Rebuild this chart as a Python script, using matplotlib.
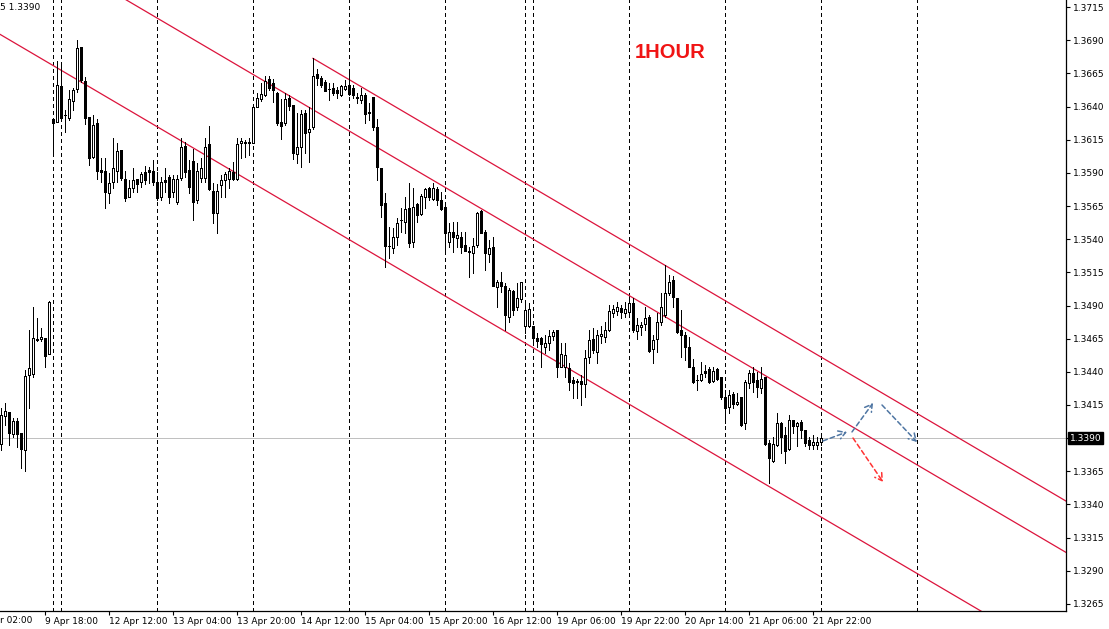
import numpy as np
import matplotlib
matplotlib.use('Agg')
import matplotlib.pyplot as plt
from matplotlib.transforms import blended_transform_factory

# hourly bars, first visible bar is index -11 (index 0 = 9 Apr 18:00)
first_bar = -11

opens = [1.33854, 1.34068, 1.34095, 1.33929, 1.34030, 1.33937, 1.33812, 1.34377, 1.34382, 1.34648, 1.34646,
         1.34653, 1.34532, 1.36306, 1.36286, 1.36555, 1.36339, 1.36316, 1.36442, 1.36530, 1.36846,
         1.36592, 1.36324, 1.36022, 1.36273, 1.35922, 1.35914, 1.35751, 1.35829, 1.35917, 1.36072,
         1.35854, 1.35721, 1.35788, 1.35851, 1.35829, 1.35909, 1.35919, 1.35914, 1.35834, 1.35721,
         1.35846, 1.35866, 1.35753, 1.35683, 1.35858, 1.36102, 1.35921, 1.35992, 1.35695, 1.35858,
         1.35858, 1.36117, 1.35763, 1.35595, 1.35808, 1.35846, 1.35851, 1.35909, 1.35851, 1.36122,
         1.36135, 1.36135, 1.36122, 1.36399, 1.36454, 1.36487, 1.36605, 1.36574, 1.36499, 1.36286,
         1.36273, 1.36461, 1.36411, 1.36042, 1.36097, 1.36353, 1.36210, 1.36243, 1.36645, 1.36612,
         1.36587, 1.36532, 1.36542, 1.36525, 1.36487, 1.36530, 1.36562, 1.36537, 1.36469, 1.36449,
         1.36487, 1.36356, 1.36474, 1.36243, 1.35939, 1.35670, 1.35351, 1.35331, 1.35419, 1.35542,
         1.35532, 1.35633, 1.35382, 1.35665, 1.35590, 1.35716, 1.35784, 1.35701, 1.35776, 1.35696,
         1.35640, 1.35382, 1.35457, 1.35412, 1.35419, 1.35356, 1.35309, 1.35299, 1.35356, 1.35613,
         1.35457, 1.35289, 1.35344, 1.35043, 1.35075, 1.35047, 1.34816, 1.35012, 1.34886, 1.34947,
         1.34746, 1.34746, 1.34746, 1.34653, 1.34653, 1.34590, 1.34620, 1.34670, 1.34716, 1.34434,
         1.34439, 1.34427, 1.34339, 1.34329, 1.34334, 1.34309, 1.34515, 1.34645, 1.34552, 1.34670,
         1.34660, 1.34716, 1.34846, 1.34861, 1.34879, 1.34846, 1.34854, 1.34922, 1.34711, 1.34736,
         1.34761, 1.34816, 1.34570, 1.34645, 1.34778, 1.34829, 1.34997, 1.35092, 1.34954, 1.34716,
         1.34678, 1.34590, 1.34439, 1.34341, 1.34339, 1.34409, 1.34419, 1.34334, 1.34419, 1.34364,
         1.34213, 1.34133, 1.34233, 1.34158, 1.34213, 1.34012, 1.34314, 1.34389, 1.34339, 1.34276,
         1.34359, 1.33866, 1.33731, 1.33849, 1.34017, 1.33924, 1.33816, 1.34037, 1.33992, 1.34025,
         1.33962, 1.33886, 1.33849, 1.33849, 1.33874]

highs = [1.34126, 1.34163, 1.34100, 1.34055, 1.34055, 1.33937, 1.34414, 1.34716, 1.34892, 1.34809, 1.34733,
         1.34653, 1.34934, 1.36306, 1.36743, 1.36713, 1.36374, 1.36525, 1.36542, 1.36901, 1.36846,
         1.36620, 1.36324, 1.36336, 1.36306, 1.36009, 1.36009, 1.35896, 1.36160, 1.36123, 1.36072,
         1.35914, 1.35846, 1.35934, 1.35854, 1.35904, 1.35952, 1.35947, 1.35997, 1.35909, 1.35871,
         1.35939, 1.35884, 1.35884, 1.35884, 1.36160, 1.36135, 1.35997, 1.36077, 1.35977, 1.36009,
         1.36160, 1.36253, 1.35821, 1.35816, 1.35884, 1.35909, 1.35934, 1.35984, 1.36165, 1.36160,
         1.36147, 1.36160, 1.36399, 1.36499, 1.36574, 1.36630, 1.36630, 1.36605, 1.36512, 1.36454,
         1.36499, 1.36487, 1.36411, 1.36348, 1.36374, 1.36374, 1.36399, 1.36763, 1.36680, 1.36630,
         1.36600, 1.36574, 1.36575, 1.36550, 1.36562, 1.36600, 1.36655, 1.36562, 1.36499, 1.36537,
         1.36499, 1.36424, 1.36474, 1.36304, 1.35939, 1.35746, 1.35495, 1.35482, 1.35557, 1.35633,
         1.35721, 1.35821, 1.35784, 1.35675, 1.35741, 1.35784, 1.35796, 1.35826, 1.35796, 1.35758,
         1.35658, 1.35520, 1.35532, 1.35532, 1.35457, 1.35457, 1.35344, 1.35407, 1.35608, 1.35620,
         1.35470, 1.35394, 1.35419, 1.35093, 1.35155, 1.35067, 1.35030, 1.35017, 1.35067, 1.35080,
         1.34916, 1.34922, 1.34746, 1.34690, 1.34665, 1.34678, 1.34716, 1.34716, 1.34716, 1.34615,
         1.34615, 1.34464, 1.34364, 1.34344, 1.34376, 1.34565, 1.34716, 1.34728, 1.34716, 1.34746,
         1.34778, 1.34904, 1.34904, 1.34929, 1.34904, 1.34929, 1.34967, 1.34954, 1.34803, 1.34778,
         1.34891, 1.34829, 1.34678, 1.34841, 1.34992, 1.35205, 1.35130, 1.35123, 1.34954, 1.34866,
         1.34703, 1.34665, 1.34495, 1.34376, 1.34477, 1.34452, 1.34434, 1.34439, 1.34427, 1.34364,
         1.34263, 1.34263, 1.34251, 1.34243, 1.34213, 1.34339, 1.34414, 1.34434, 1.34402, 1.34434,
         1.34364, 1.33886, 1.33912, 1.34087, 1.34025, 1.33987, 1.34075, 1.34037, 1.34025, 1.34037,
         1.33962, 1.33912, 1.33924, 1.33912, 1.33924]

lows = [1.33812, 1.34000, 1.33849, 1.33912, 1.33837, 1.33673, 1.33653, 1.34126, 1.34364, 1.34633, 1.34633,
        1.34440, 1.34532, 1.36055, 1.36286, 1.36311, 1.36210, 1.36298, 1.36374, 1.36507, 1.36587,
        1.36266, 1.35959, 1.36009, 1.35854, 1.35834, 1.35638, 1.35670, 1.35789, 1.35834, 1.35846,
        1.35688, 1.35721, 1.35753, 1.35753, 1.35796, 1.35814, 1.35821, 1.35809, 1.35696, 1.35696,
        1.35758, 1.35670, 1.35720, 1.35665, 1.35846, 1.35871, 1.35751, 1.35545, 1.35670, 1.35833,
        1.35833, 1.35771, 1.35520, 1.35444, 1.35720, 1.35720, 1.35783, 1.35846, 1.35846, 1.36009,
        1.36022, 1.36034, 1.36122, 1.36399, 1.36444, 1.36479, 1.36524, 1.36436, 1.36260, 1.36152,
        1.36260, 1.36374, 1.36002, 1.35972, 1.35941, 1.36052, 1.35984, 1.36228, 1.36562, 1.36549,
        1.36519, 1.36449, 1.36487, 1.36462, 1.36479, 1.36525, 1.36487, 1.36462, 1.36424, 1.36424,
        1.36274, 1.36299, 1.36223, 1.35846, 1.35570, 1.35193, 1.35256, 1.35294, 1.35356, 1.35457,
        1.35450, 1.35344, 1.35344, 1.35532, 1.35583, 1.35633, 1.35696, 1.35696, 1.35658, 1.35620,
        1.35289, 1.35344, 1.35306, 1.35344, 1.35299, 1.35314, 1.35118, 1.35148, 1.35344, 1.35444,
        1.35168, 1.35231, 1.35048, 1.34887, 1.35005, 1.34716, 1.34778, 1.34828, 1.34866, 1.34929,
        1.34691, 1.34741, 1.34603, 1.34590, 1.34439, 1.34540, 1.34565, 1.34640, 1.34359, 1.34434,
        1.34364, 1.34263, 1.34201, 1.34201, 1.34150, 1.34213, 1.34464, 1.34540, 1.34464, 1.34615,
        1.34628, 1.34711, 1.34816, 1.34829, 1.34803, 1.34816, 1.34841, 1.34703, 1.34645, 1.34678,
        1.34716, 1.34552, 1.34469, 1.34552, 1.34753, 1.34816, 1.34979, 1.34891, 1.34696, 1.34515,
        1.34490, 1.34434, 1.34314, 1.34263, 1.34334, 1.34364, 1.34314, 1.34326, 1.34339, 1.34193,
        1.34017, 1.34087, 1.34125, 1.34150, 1.33992, 1.33967, 1.34276, 1.34251, 1.34213, 1.34238,
        1.33849, 1.33565, 1.33723, 1.33841, 1.33786, 1.33711, 1.33811, 1.33937, 1.33841, 1.33899,
        1.33841, 1.33816, 1.33816, 1.33816, 1.33849]

closes = [1.34075, 1.34105, 1.33937, 1.34033, 1.33929, 1.33817, 1.34369, 1.34427, 1.34653, 1.34638, 1.34666,
          1.34522, 1.34927, 1.36278, 1.36562, 1.36316, 1.36334, 1.36454, 1.36525, 1.36839, 1.36600,
          1.36311, 1.36009, 1.36261, 1.35917, 1.35909, 1.35758, 1.35821, 1.35934, 1.36065, 1.35859,
          1.35713, 1.35783, 1.35846, 1.35814, 1.35889, 1.35846, 1.35909, 1.35834, 1.35713, 1.35834,
          1.35829, 1.35720, 1.35851, 1.35851, 1.36092, 1.35909, 1.35791, 1.35683, 1.35914, 1.35934,
          1.36097, 1.35776, 1.35595, 1.35763, 1.35846, 1.35889, 1.35914, 1.35851, 1.36117, 1.36140,
          1.36122, 1.36122, 1.36394, 1.36461, 1.36494, 1.36592, 1.36537, 1.36524, 1.36273, 1.36253,
          1.36454, 1.36404, 1.36052, 1.36097, 1.36343, 1.36198, 1.36230, 1.36630, 1.36612, 1.36562,
          1.36519, 1.36529, 1.36504, 1.36499, 1.36555, 1.36555, 1.36492, 1.36487, 1.36464, 1.36487,
          1.36344, 1.36351, 1.36248, 1.35942, 1.35658, 1.35349, 1.35346, 1.35419, 1.35520, 1.35547,
          1.35625, 1.35374, 1.35645, 1.35583, 1.35726, 1.35776, 1.35716, 1.35784, 1.35696, 1.35625,
          1.35449, 1.35457, 1.35414, 1.35432, 1.35344, 1.35314, 1.35304, 1.35349, 1.35600, 1.35449,
          1.35294, 1.35331, 1.35048, 1.35080, 1.35050, 1.34828, 1.35017, 1.34866, 1.34954, 1.35075,
          1.34866, 1.34871, 1.34653, 1.34635, 1.34610, 1.34615, 1.34670, 1.34703, 1.34439, 1.34535,
          1.34527, 1.34326, 1.34314, 1.34324, 1.34309, 1.34502, 1.34640, 1.34565, 1.34678, 1.34685,
          1.34716, 1.34861, 1.34871, 1.34886, 1.34854, 1.34871, 1.34922, 1.34716, 1.34753, 1.34753,
          1.34803, 1.34560, 1.34640, 1.34778, 1.34891, 1.34992, 1.35080, 1.34962, 1.34703, 1.34678,
          1.34590, 1.34439, 1.34326, 1.34336, 1.34384, 1.34389, 1.34326, 1.34409, 1.34344, 1.34208,
          1.34125, 1.34226, 1.34158, 1.34176, 1.34000, 1.34326, 1.34394, 1.34326, 1.34283, 1.34344,
          1.33856, 1.33748, 1.33856, 1.34012, 1.33912, 1.33806, 1.34037, 1.33992, 1.34017, 1.33962,
          1.33866, 1.33849, 1.33874, 1.33874, 1.33900]

# time axis labels, one every 16 bars starting at bar 0
time_labels = ['9 Apr 18:00', '12 Apr 12:00', '13 Apr 04:00', '13 Apr 20:00',
               '14 Apr 12:00', '15 Apr 04:00', '15 Apr 20:00', '16 Apr 12:00', '19 Apr 06:00',
               '19 Apr 22:00', '20 Apr 14:00', '21 Apr 06:00', '21 Apr 22:00']
# period separators (bar index)
separators = [2, 4, 28, 52, 76, 100, 120, 122, 146, 170, 194, 218]

price_ticks = [1.3265, 1.3290, 1.3315, 1.3340, 1.3365, 1.3390, 1.3415, 1.3440,
               1.3465, 1.3490, 1.3515, 1.3540, 1.3565, 1.3590, 1.3615, 1.3640,
               1.3665, 1.3690, 1.3715]
last_price = 1.3390

# channel lines: (bar, price) anchor, common slope per bar
channel_slope = -0.00017728
upper_anchor = (67, 1.36763)
middle_anchor = (100, 1.35791)
lower_anchor = (100, 1.34972)

# projected path arrows: (bar, price) start -> end
blue_arrows = [((194.5, 1.33879), (200.5, 1.33947)),
               ((201.75, 1.33947), (207.0, 1.34165)),
               ((209.25, 1.34150), (218.0, 1.33871))]
red_arrows = [((202.0, 1.33901), (209.5, 1.33570))]

bars = np.arange(first_bar, first_bar + len(opens))
o = np.array(opens)
h = np.array(highs)
l = np.array(lows)
c = np.array(closes)

W, H = 1109, 629
fig = plt.figure(figsize=(W / 100, H / 100), dpi=100)
ax = fig.add_axes([0, 18 / H, 1066 / W, 611 / H])

px = 0.72  # one pixel in points

for s in separators:
    ax.axvline(s, color='black', lw=px, ls=(0, (4, 3)), zorder=1, antialiased=False)

ax.axhline(last_price, color='#c0c0c0', lw=px, zorder=1, antialiased=False)

red = '#dc143c'
xr = np.array([upper_anchor[0], 256])
ax.plot(xr, upper_anchor[1] + channel_slope * (xr - upper_anchor[0]), color=red, lw=0.9, zorder=2)
xf = np.array([-12, 256])
ax.plot(xf, middle_anchor[1] + channel_slope * (xf - middle_anchor[0]), color=red, lw=0.9, zorder=2)
ax.plot(xf, lower_anchor[1] + channel_slope * (xf - lower_anchor[0]), color=red, lw=0.9, zorder=2)

# candles
ax.vlines(bars, l, h, color='black', lw=px, zorder=3, antialiased=False)
bull = c >= o
ax.bar(bars, np.abs(c - o), bottom=np.minimum(o, c), width=0.5,
       color=np.where(bull, 'white', 'black'), edgecolor='black', linewidth=px, zorder=4,
       antialiased=False)

for (x0, y0), (x1, y1) in blue_arrows:
    ax.annotate('', xy=(x1, y1), xytext=(x0, y0),
                arrowprops=dict(arrowstyle='->,head_length=0.5,head_width=0.3', color='#4f76a3',
                                lw=1.1, ls=(0, (3, 2)), shrinkA=0, shrinkB=0), zorder=5)
for (x0, y0), (x1, y1) in red_arrows:
    ax.annotate('', xy=(x1, y1), xytext=(x0, y0),
                arrowprops=dict(arrowstyle='->,head_length=0.5,head_width=0.3', color='#ff3333',
                                lw=1.1, ls=(0, (3, 2)), shrinkA=0, shrinkB=0), zorder=5)

# axes styling
for side in ['top', 'left']:
    ax.spines[side].set_visible(False)
for side in ['right', 'bottom']:
    ax.spines[side].set_color('black')
    ax.spines[side].set_linewidth(0.9)

ax.yaxis.tick_right()
ax.set_yticks(price_ticks)
ax.set_yticklabels(['' if abs(p - last_price) < 1e-6 else '%.4f' % p for p in price_ticks])
ax.tick_params(axis='y', length=3, width=0.8, pad=2, labelsize=6.5, colors='black')

tick_bars = [16 * i for i in range(len(time_labels))]
ax.set_xticks(tick_bars)
ax.set_xticklabels(time_labels)
for lab in ax.get_xticklabels():
    lab.set_ha('left')
ax.tick_params(axis='x', length=3, width=0.8, pad=1.5, labelsize=6.5, colors='black')

# limits last: set_ticks can widen the view
ax.set_xlim(-11.25, 255.25)
ax.set_ylim(1.32597, 1.37203)

# current price box
trans = blended_transform_factory(ax.transAxes, ax.transData)
ax.text(1.0035, last_price, '%.4f' % last_price, transform=trans, color='white', fontsize=6.5,
        ha='left', va='center', clip_on=False, zorder=10,
        bbox=dict(facecolor='black', edgecolor='black', pad=1.2))

# parts of the header and the first time label that show at the left edge
fig.text(0, 1 - 8 / H, '5 1.3390', fontsize=6.5, ha='left', va='center', color='black')
fig.text(0, 18 / H - 9.5 / H, 'r 02:00', fontsize=6.5, ha='left', va='center', color='black')

fig.text(670 / W, 1 - 52 / H, '1HOUR', fontsize=14.5, fontweight='bold', color='#f01414',
         ha='center', va='center', family='Liberation Sans')

fig.savefig('out.png', dpi=100)
